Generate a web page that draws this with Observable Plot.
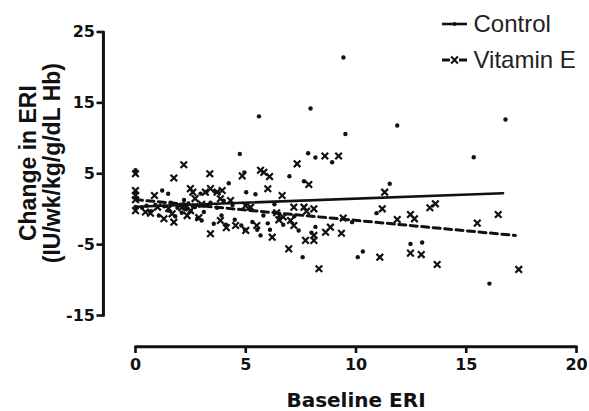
<!DOCTYPE html>
<html>
<head>
<meta charset="utf-8">
<script src="https://cdn.jsdelivr.net/npm/d3@7"></script>
<script src="https://cdn.jsdelivr.net/npm/@observablehq/plot@0.6"></script>
<style>
  html, body { margin: 0; padding: 0; background: #ffffff; }
  #chart { width: 589px; height: 411px; }
</style>
</head>
<body>
<div id="chart"></div>
<script>
// ---- Data ----
const seriesNames = ["Control", "Vitamin E"];
const xTitle = "Baseline ERI";
const yTitle = "Change in ERI\n(IU/wk/kg/g/dL Hb)";
const xTicks = [0, 5, 10, 15, 20];
const yTicks = [-15, -5, 5, 15, 25];

const controlX = [0, 0, 0, 0, 0, 0, 0.3, 0.5, 0.7, 0.9, 1.06, 1.21, 1.3, 1.48, 1.5, 1.6, 1.8, 1.9, 2.0, 2.1, 2.2, 2.3, 2.4, 2.5, 2.6, 2.7, 2.8, 2.95, 3.0, 3.0, 3.1, 3.2, 3.4, 3.55, 3.6, 3.7, 3.9, 4.0, 4.1, 4.23, 4.4, 4.5, 4.73, 4.8, 4.94, 4.96, 5.02, 5.2, 5.3, 5.44, 5.52, 5.6, 5.67, 5.8, 6.0, 6.1, 6.3, 6.5, 6.7, 6.98, 7.2, 7.4, 7.58, 7.64, 7.83, 7.94, 7.98, 8.16, 8.16, 8.92, 9.43, 9.52, 9.82, 10.08, 10.31, 10.93, 11.53, 11.87, 12.47, 13.0, 15.34, 16.05, 16.78];
const controlY = [5.5, 5.2, 2.4, 1.5, 0.05, 0.3, 0.2, 0.5, -0.3, 0.6, -0.9, 2.64, 0.4, 2.18, -0.2, 0.9, -1.0, 0.2, 0.6, -0.5, 1.3, 0.0, 0.8, -0.3, 0.4, 0.3, -1.35, 2.2, -1.6, 0.5, -0.4, 2.4, 0.9, -2.06, 2.5, 0.2, -0.9, 1.2, -2.2, 3.65, 0.6, -1.5, 7.8, -2.3, 5.2, -2.9, 2.4, 0.1, -1.8, 2.1, -2.9, 13.1, -3.7, -0.9, -2.0, -2.9, 0.7, -1.2, -2.2, 4.65, -1.0, -3.0, -6.77, 3.95, 7.9, 14.2, -3.3, -2.5, 7.3, 6.63, 21.4, 10.6, -1.83, -6.77, -5.97, -0.56, 3.58, 11.8, -4.9, -4.7, 7.33, -10.5, 12.65];

const vitaminEX = [0, 0, 0, 0, 0, 0.45, 0.68, 0.86, 1.0, 1.29, 1.5, 1.66, 1.74, 1.74, 2.1, 2.19, 2.3, 2.34, 2.49, 2.5, 2.6, 2.7, 2.87, 3.0, 3.17, 3.37, 3.4, 3.4, 3.7, 3.85, 3.85, 3.93, 4.12, 4.31, 4.54, 4.84, 4.99, 5.0, 5.22, 5.5, 5.67, 5.82, 6.0, 6.08, 6.2, 6.4, 6.5, 6.65, 6.7, 6.95, 7.03, 7.18, 7.18, 7.33, 7.64, 7.71, 7.76, 7.86, 8.09, 8.09, 8.09, 8.32, 8.59, 8.62, 8.84, 9.21, 9.34, 9.42, 11.08, 11.19, 11.3, 11.87, 12.47, 12.47, 12.65, 12.96, 13.35, 13.6, 13.68, 15.5, 16.45, 17.38];
const vitaminEY = [5.0, 2.64, 1.93, 1.33, -0.2, -0.4, -0.57, 1.93, 0.3, -1.35, 0.1, -0.65, 4.4, -1.83, 0.2, 6.27, 0.5, -0.9, 2.9, -0.2, 2.4, 1.5, -1.2, 0.7, 2.4, 5.0, 2.9, -3.47, 2.4, 1.47, -1.6, 2.64, -2.6, 1.23, -2.3, 4.7, 0.5, -3.0, 0.28, -2.3, 5.5, 5.2, 2.88, 4.6, -3.95, -0.5, -1.5, 1.93, -1.1, -5.6, -1.6, 0.28, -2.3, 6.4, 0.28, -4.4, -0.28, 3.48, 0.05, -4.4, -3.7, -8.4, 7.5, -3.25, -2.54, 7.5, -3.4, -1.25, -6.77, 0.05, 2.4, -1.45, -0.75, -6.2, -1.36, -6.4, 0.2, 0.76, -7.8, -1.97, -0.75, -8.5];

// fitted regression lines (end points)
const controlFitX = [0, 16.67];
const controlFitY = [0.35, 2.25];
const vitaminEFitX = [0, 17.23];
const vitaminEFitY = [1.35, -3.7];

// ---- Build tables ----
const control = controlX.map((x, i) => ({x, y: controlY[i]}));
const vitaminE = vitaminEX.map((x, i) => ({x, y: vitaminEY[i]}));
const controlFit = controlFitX.map((x, i) => ({x, y: controlFitY[i]}));
const vitaminEFit = vitaminEFitX.map((x, i) => ({x, y: vitaminEFitY[i]}));

// scale domains: the frame is extended so the offset axes sit apart (Prism style)
const xDomain = [-1.474, 20];
const yDomain = [-19.515, 25];
// axis lines as two-point paths (x axis sits at the bottom of the frame, y axis at its left)
const yAxisPath = [{x: xDomain[0] + 0.02, y: yTicks[0]}, {x: xDomain[0] + 0.02, y: yTicks[yTicks.length - 1]}];
const xAxisPath = [{x: xTicks[0], y: yDomain[0] + 0.1}, {x: xTicks[xTicks.length - 1], y: yDomain[0] + 0.1}];
const ink = "#111";
const tickFont = "DejaVu Sans, sans-serif";

const plot = Plot.plot({
  width: 589,
  height: 411,
  marginLeft: 102.5,
  marginRight: 13,
  marginTop: 31.5,
  marginBottom: 64,
  x: {domain: xDomain},
  y: {domain: yDomain},
  style: {background: "transparent", color: ink},
  marks: [
    Plot.axisY({ticks: yTicks, tickSize: 6, tickPadding: 2, strokeWidth: 2.6, label: null,
      tickFormat: d => String(d),
      fontSize: 16, fontWeight: "bold", fontFamily: tickFont, fill: ink}),
    Plot.axisX({ticks: xTicks, tickSize: 6, tickPadding: 5, strokeWidth: 2.6, label: null,
      tickFormat: d => String(d),
      fontSize: 16, fontWeight: "bold", fontFamily: tickFont, fill: ink}),
    // titles
    Plot.text([xTitle], {x: () => 10, frameAnchor: "bottom", dy: 53, text: d => d, lineAnchor: "middle",
      fontSize: 20, fontWeight: "bold", fontFamily: tickFont, fill: ink}),
    Plot.text([yTitle], {y: () => 6.5, frameAnchor: "left", dx: -62.8, rotate: -90, text: d => d,
      textAnchor: "middle", lineAnchor: "middle",
      lineHeight: 1.05, fontSize: 23, fontWeight: "bold", fontFamily: "Liberation Sans, Arial, sans-serif", fill: ink}),
    // axis lines
    Plot.line(yAxisPath, {x: "x", y: "y", stroke: ink, strokeWidth: 3}),
    Plot.line(xAxisPath, {x: "x", y: "y", stroke: ink, strokeWidth: 3}),
    // data
    Plot.dot(control, {x: "x", y: "y", r: 2.2, fill: ink, stroke: "none"}),
    Plot.dot(vitaminE, {x: "x", y: "y", symbol: "times", r: 3.1, stroke: ink, strokeWidth: 2.2}),
    Plot.line(controlFit, {x: "x", y: "y", stroke: ink, strokeWidth: 2.6}),
    Plot.line(vitaminEFit, {x: "x", y: "y", stroke: ink, strokeWidth: 3, strokeDasharray: "7,4.5"})
  ]
});

const svg = d3.select(plot);
// ---- Legend (top right, inside the plot area) ----
const leg = svg.append("g").attr("font-family", "Liberation Sans, Arial, sans-serif")
  .attr("font-size", 24).attr("fill", "#222").attr("text-anchor", "start");
const rows = [{name: seriesNames[0], y: 24}, {name: seriesNames[1], y: 60}];
leg.append("line").attr("x1", 442).attr("x2", 467).attr("y1", rows[0].y).attr("y2", rows[0].y)
  .attr("stroke", ink).attr("stroke-width", 2.6);
leg.append("circle").attr("cx", 454.5).attr("cy", rows[0].y).attr("r", 2).attr("fill", ink);
leg.append("line").attr("x1", 442).attr("x2", 450).attr("y1", rows[1].y).attr("y2", rows[1].y)
  .attr("stroke", ink).attr("stroke-width", 3);
leg.append("line").attr("x1", 459).attr("x2", 467).attr("y1", rows[1].y).attr("y2", rows[1].y)
  .attr("stroke", ink).attr("stroke-width", 3);
leg.append("path").attr("d", d3.symbol(d3.symbolTimes, 32)()).attr("transform", `translate(454.5,${rows[1].y})`)
  .attr("stroke", ink).attr("stroke-width", 2.1).attr("fill", "none");
rows.forEach(r => {
  leg.append("text").attr("x", 473.5).attr("y", r.y).attr("dy", "0.35em").attr("text-anchor", "start").text(r.name);
});

document.getElementById("chart").appendChild(plot);
</script>
</body>
</html>
